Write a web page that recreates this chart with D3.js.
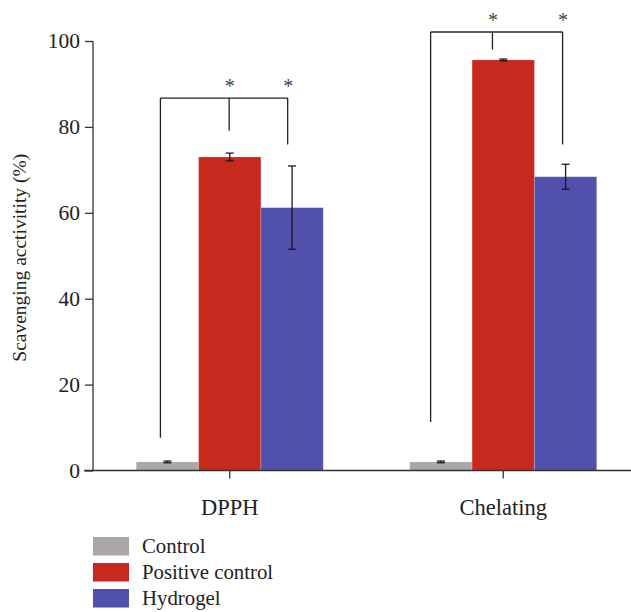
<!DOCTYPE html>
<html>
<head>
<meta charset="utf-8">
<script src="https://cdn.jsdelivr.net/npm/d3@7/dist/d3.min.js"></script>
<style>
  html, body { margin: 0; padding: 0; background: #fff; }
  svg { display: block; }
  text { font-family: "Liberation Serif", "DejaVu Serif", serif; fill: #222; }
</style>
</head>
<body>
<svg id="chart" width="631" height="612"></svg>
<script>
// Assay categories and treatment groups
const categories = ["DPPH", "Chelating"];
const series = ["Control", "Positive control", "Hydrogel"];
const seriesColors = ["#aba7a6", "#c8291f", "#5151ac"];

// Mean scavenging activity (%) per category, one array per series
const controlValues = [2.0, 2.0];
const positiveValues = [73.0, 95.6];
const hydrogelValues = [61.2, 68.4];

// Standard deviations for the error bars
const controlErrors = [0.2, 0.2];
const positiveErrors = [0.9, 0.2];
const hydrogelErrors = [9.7, 2.9];

const yTicks = [0, 20, 40, 60, 80, 100];
const yLabel = "Scavenging acctivitity (%)";

// Significance brackets (data units): top level and where each leg ends
const bracketTops = [86.7, 102.1];
const bracketLegEnds = [[7.6, 79.1, 75.9], [11.3, 98.0, 75.9]];
const bracketStars = [["", "*", "*"], ["", "*", "*"]];

const svg = d3.select("#chart");
const yAxisX = 93;

const y = d3.scaleLinear().domain([0, 100]).range([470.5, 41]);
const x0 = d3.scaleBand().domain(categories).range([yAxisX, 640]).padding(0);
const x1 = d3.scaleBand().domain(series).range([0, x0.bandwidth()])
  .paddingInner(0).paddingOuter(0.694);
const color = d3.scaleOrdinal().domain(series).range(seriesColors);

const valuesBySeries = [controlValues, positiveValues, hydrogelValues];
const errorsBySeries = [controlErrors, positiveErrors, hydrogelErrors];

const rows = [];
categories.forEach((c, ci) => {
  series.forEach((s, si) => {
    rows.push({ cat: c, ci, s, si, v: valuesBySeries[si][ci], e: errorsBySeries[si][ci] });
  });
});

// Bars
svg.append("g").selectAll("rect").data(rows).join("rect")
  .attr("x", d => x0(d.cat) + x1(d.s))
  .attr("y", d => y(d.v))
  .attr("width", x1.bandwidth())
  .attr("height", d => y(0) - y(d.v))
  .attr("fill", d => color(d.s))
  .attr("stroke", "#ffffff")
  .attr("stroke-opacity", 0.25)
  .attr("stroke-width", 0.8);

// Error bars
const eb = svg.append("g").attr("stroke", "#1a1a1a").attr("stroke-width", 1.3);
rows.forEach(d => {
  const cx = x0(d.cat) + x1(d.s) + x1.bandwidth() / 2;
  const cap = 4;
  eb.append("line").attr("x1", cx).attr("x2", cx).attr("y1", y(d.v + d.e)).attr("y2", y(d.v - d.e));
  eb.append("line").attr("x1", cx - cap).attr("x2", cx + cap).attr("y1", y(d.v + d.e)).attr("y2", y(d.v + d.e));
  eb.append("line").attr("x1", cx - cap).attr("x2", cx + cap).attr("y1", y(d.v - d.e)).attr("y2", y(d.v - d.e));
});

// Significance brackets; legs sit slightly left of each bar centre
const legShift = [[-7, -0.6, -4.4], [-10.3, -10.8, -3]];
const br = svg.append("g").attr("stroke", "#222").attr("stroke-width", 1.3).attr("fill", "none");
categories.forEach((c, ci) => {
  const legX = series.map((s, si) => x0(c) + x1(s) + x1.bandwidth() / 2 + legShift[ci][si]);
  const top = y(bracketTops[ci]);
  br.append("line").attr("x1", legX[0]).attr("x2", legX[2]).attr("y1", top).attr("y2", top);
  legX.forEach((lx, li) => {
    br.append("line").attr("x1", lx).attr("x2", lx).attr("y1", top).attr("y2", y(bracketLegEnds[ci][li]));
    if (bracketStars[ci][li]) {
      svg.append("text").attr("x", lx + 0.5).attr("y", top - 5)
        .attr("text-anchor", "middle").attr("font-size", 20)
        .style("fill", "#444").text(bracketStars[ci][li]);
    }
  });
});

// Axes
const axisG = svg.append("g").attr("stroke", "#333").attr("stroke-width", 1.3);
axisG.append("line").attr("x1", yAxisX).attr("x2", yAxisX).attr("y1", y(100)).attr("y2", y(0));
axisG.append("line").attr("x1", 84).attr("x2", 631).attr("y1", y(0)).attr("y2", y(0));

const yAxis = d3.axisLeft(y).tickValues(yTicks).tickSize(8).tickPadding(5);
const gy = svg.append("g").attr("transform", `translate(${yAxisX},0)`).call(yAxis);
gy.select(".domain").remove();
gy.selectAll(".tick line").attr("stroke", "#333").attr("stroke-width", 1.3);
gy.selectAll(".tick text").attr("font-size", 21.5).attr("font-family", "Liberation Serif, serif").attr("fill", "#222");

const xAxis = d3.axisBottom(x0).tickSize(8).tickPadding(21);
const gx = svg.append("g").attr("transform", `translate(0,${y(0)})`).call(xAxis);
gx.select(".domain").remove();
gx.selectAll(".tick line").attr("stroke", "#333").attr("stroke-width", 1.3);
gx.selectAll(".tick text").attr("font-size", 22.5).attr("font-family", "Liberation Serif, serif").attr("fill", "#222");

// Y axis title
svg.append("text")
  .attr("transform", `translate(26,${(y(0) + y(100)) / 2 + 2}) rotate(-90)`)
  .attr("text-anchor", "middle")
  .attr("font-size", 19.5)
  .text(yLabel);

// Legend
const lg = svg.append("g").attr("transform", "translate(93,537)");
series.forEach((s, i) => {
  const g = lg.append("g").attr("transform", `translate(0,${i * 26})`);
  g.append("rect").attr("width", 36).attr("height", 18.5).attr("fill", color(s));
  g.append("text").attr("x", 49).attr("y", 16).attr("font-size", 20.8).text(s);
});
</script>
</body>
</html>
